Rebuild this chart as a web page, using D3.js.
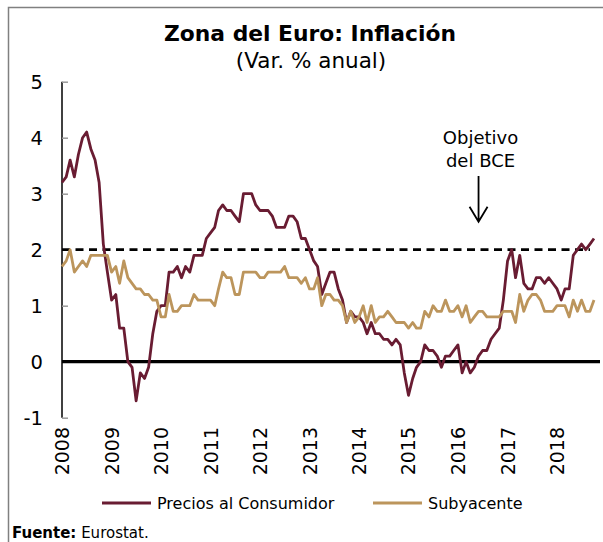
<html>
<head>
<script src="https://d3js.org/d3.v7.min.js"></script>
<style>
    body { margin: 0; background: #ffffff; }
    svg { font-family: "DejaVu Sans", sans-serif; }
</style>
</head>
<body>
<svg id="chart"></svg>
<script>

    // datos mensuales, ene 2008 - oct 2018
    var precios = [
        3.2, 3.3, 3.6, 3.3, 3.7, 4.0, 4.1, 3.8, 3.6, 3.2, 2.1, 1.6,
        1.1, 1.2, 0.6, 0.6, 0.0, -0.1, -0.7, -0.2, -0.3, -0.1, 0.5, 0.9,
        1.0, 1.0, 1.6, 1.6, 1.7, 1.5, 1.7, 1.6, 1.9, 1.9, 1.9, 2.2,
        2.3, 2.4, 2.7, 2.8, 2.7, 2.7, 2.6, 2.5, 3.0, 3.0, 3.0, 2.8,
        2.7, 2.7, 2.7, 2.6, 2.4, 2.4, 2.4, 2.6, 2.6, 2.5, 2.2, 2.2,
        2.0, 1.8, 1.7, 1.2, 1.4, 1.6, 1.6, 1.3, 1.1, 0.7, 0.9, 0.8,
        0.8, 0.7, 0.5, 0.7, 0.5, 0.5, 0.4, 0.4, 0.3, 0.4, 0.3, -0.2,
        -0.6, -0.3, -0.1, 0.0, 0.3, 0.2, 0.2, 0.1, -0.1, 0.1, 0.1, 0.2,
        0.3, -0.2, 0.0, -0.2, -0.1, 0.1, 0.2, 0.2, 0.4, 0.5, 0.6, 1.1,
        1.8, 2.0, 1.5, 1.9, 1.4, 1.3, 1.3, 1.5, 1.5, 1.4, 1.5, 1.4,
        1.3, 1.1, 1.3, 1.3, 1.9, 2.0, 2.1, 2.0, 2.1, 2.2
    ];
    var subyacente = [
        1.7, 1.8, 2.0, 1.6, 1.7, 1.8, 1.7, 1.9, 1.9, 1.9, 1.9, 1.9,
        1.6, 1.7, 1.4, 1.8, 1.5, 1.4, 1.3, 1.3, 1.2, 1.2, 1.1, 1.1,
        0.8, 0.8, 1.2, 0.9, 0.9, 1.0, 1.0, 1.0, 1.2, 1.1, 1.1, 1.1,
        1.1, 1.0, 1.3, 1.6, 1.5, 1.5, 1.2, 1.2, 1.6, 1.6, 1.6, 1.6,
        1.5, 1.5, 1.6, 1.6, 1.6, 1.6, 1.7, 1.5, 1.5, 1.5, 1.4, 1.5,
        1.3, 1.3, 1.5, 1.0, 1.2, 1.2, 1.1, 1.1, 1.0, 0.7, 0.9, 0.7,
        0.8, 1.0, 0.7, 1.0, 0.7, 0.8, 0.8, 0.9, 0.8, 0.7, 0.7, 0.7,
        0.6, 0.7, 0.6, 0.6, 0.9, 0.8, 1.0, 0.9, 0.9, 1.1, 0.9, 0.9,
        1.0, 0.8, 1.0, 0.7, 0.8, 0.9, 0.9, 0.8, 0.8, 0.8, 0.8, 0.9,
        0.9, 0.9, 0.7, 1.2, 0.9, 1.1, 1.2, 1.2, 1.1, 0.9, 0.9, 0.9,
        1.0, 1.0, 1.0, 0.8, 1.1, 0.9, 1.1, 0.9, 0.9, 1.1
    ];
    var years = [2008, 2009, 2010, 2011, 2012, 2013, 2014, 2015, 2016, 2017, 2018];
    var yTicks = [-1, 0, 1, 2, 3, 4, 5];
    var objetivo = 2;
    var series = [
        {name: "Precios al Consumidor", values: precios, color: "#691C32"},
        {name: "Subyacente", values: subyacente, color: "#BC955C"}
    ];

    var W = 603, H = 542;
    var svg = d3.select("#chart").attr("width", W).attr("height", H);

    var months = d3.timeMonth.range(new Date(2008, 0, 1), new Date(2018, 10, 1));

    var x = d3.scaleTime()
        .domain([new Date(2008, 0, 1), new Date(2018, 9, 1)])
        .range([62, 594]);
    var y = d3.scaleLinear().domain([-1, 5]).range([417.7, 81.7]);

    // marco
    svg.append("rect")
        .attr("x", 8.5).attr("y", 7.5)
        .attr("width", 620).attr("height", 560)
        .attr("fill", "none").attr("stroke", "#808080").attr("stroke-width", 1.5);

    // titulo
    svg.append("text").attr("x", 310).attr("y", 41)
        .attr("text-anchor", "middle").attr("font-weight", "bold")
        .attr("font-size", 21.8).text("Zona del Euro: Inflación");
    svg.append("text").attr("x", 311).attr("y", 68)
        .attr("text-anchor", "middle").attr("font-size", 21.5)
        .text("(Var. % anual)");

    // eje y
    var yAxis = svg.append("g")
        .attr("transform", "translate(62,0)")
        .call(d3.axisRight(y).tickValues(yTicks).tickSize(6).tickFormat(""));
    yAxis.select(".domain").attr("stroke", "#000").attr("stroke-width", 1.5).attr("d", "M0," + y(5) + "V" + y(-1));
    yAxis.selectAll(".tick line").attr("stroke", "#999").attr("stroke-width", 1.5);

    svg.selectAll(".ylab").data(yTicks).enter().append("text")
        .attr("class", "ylab")
        .attr("x", 43).attr("y", d => y(d) + 7)
        .attr("text-anchor", "end").attr("font-size", 19.5)
        .text(d => d);

    // etiquetas de años
    svg.selectAll(".xlab").data(years).enter().append("text")
        .attr("class", "xlab")
        .attr("transform", d => "translate(" + (x(new Date(d, 0, 1)) + 7) + ",427) rotate(-90)")
        .attr("text-anchor", "end").attr("font-size", 19)
        .text(d => d);

    // linea de cero y objetivo
    svg.append("line")
        .attr("x1", 62).attr("x2", 600)
        .attr("y1", y(0)).attr("y2", y(0))
        .attr("stroke", "#000").attr("stroke-width", 3.3);
    svg.append("line")
        .attr("x1", 62).attr("x2", 590)
        .attr("y1", y(objetivo)).attr("y2", y(objetivo))
        .attr("stroke", "#000").attr("stroke-width", 2.7)
        .attr("stroke-dasharray", "8,5.5");

    // series
    var line = d3.line().x((d, i) => x(months[i])).y(d => y(d));
    series.forEach(function(s) {
        svg.append("path")
            .datum(s.values)
            .attr("d", line)
            .attr("fill", "none")
            .attr("stroke", s.color)
            .attr("stroke-width", 2.8)
            .attr("stroke-linejoin", "round");
    });

    // anotacion objetivo del BCE
    var ax = x(new Date(2016, 5, 1));
    svg.append("text").attr("x", ax + 2).attr("y", 144)
        .attr("text-anchor", "middle").attr("font-size", 18).text("Objetivo");
    svg.append("text").attr("x", ax + 2).attr("y", 167)
        .attr("text-anchor", "middle").attr("font-size", 18).text("del BCE");
    svg.append("path")
        .attr("d", "M" + ax + ",176V" + y(2.5) + "M" + (ax - 9) + "," + (y(2.5) - 15) + "L" + ax + "," + y(2.5) + "L" + (ax + 9) + "," + (y(2.5) - 15))
        .attr("fill", "none").attr("stroke", "#000").attr("stroke-width", 1.8);

    // leyenda
    var legX = [102, 373];
    series.forEach(function(s, i) {
        svg.append("line")
            .attr("x1", legX[i]).attr("x2", legX[i] + 49)
            .attr("y1", 503).attr("y2", 503)
            .attr("stroke", s.color).attr("stroke-width", 3);
        svg.append("text")
            .attr("x", legX[i] + 55).attr("y", 509)
            .attr("font-size", 16).text(s.name);
    });

    // fuente
    var src = svg.append("text").attr("x", 12).attr("y", 538).attr("font-size", 15);
    src.append("tspan").attr("font-weight", "bold").text("Fuente:");
    src.append("tspan").text(" Eurostat.");

</script>
</body>
</html>
